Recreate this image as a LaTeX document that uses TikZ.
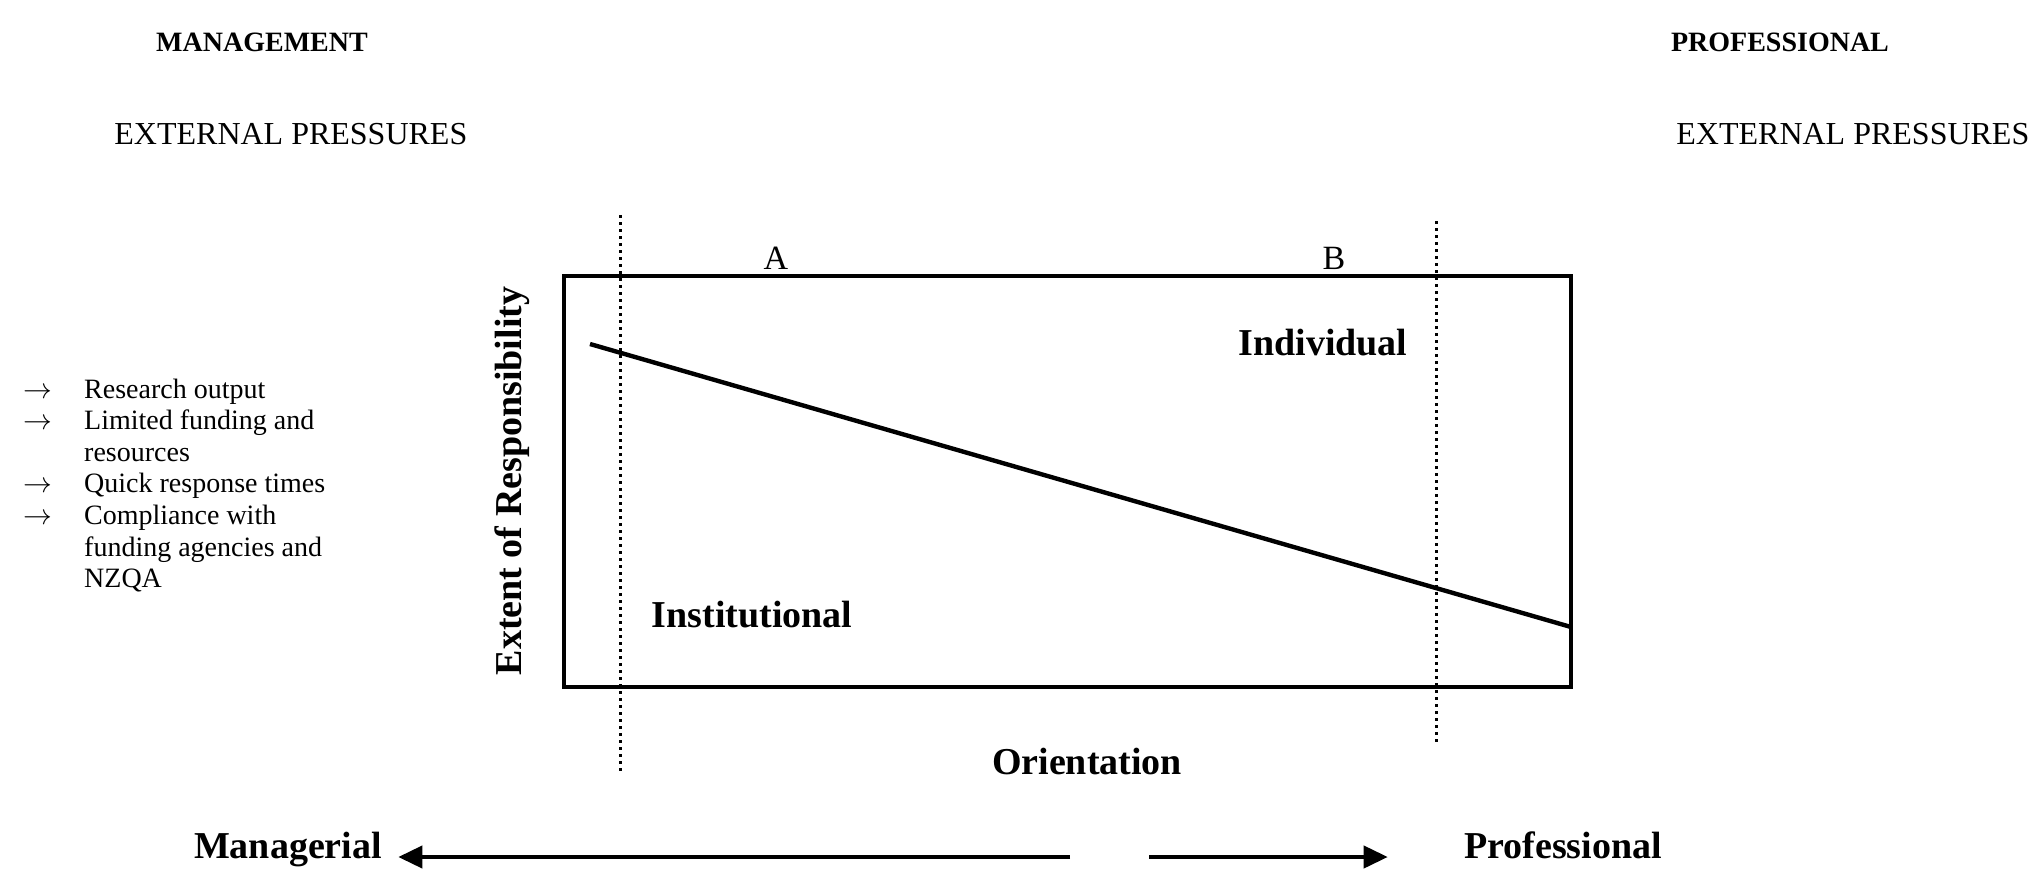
\documentclass[tikz,border=0pt]{standalone}
\usepackage{fontspec}
\setmainfont{Liberation Serif}
\usepackage{tikz}
\usetikzlibrary{arrows.meta, positioning}

\begin{document}
\begin{tikzpicture}[
  x=0.5pt, y=-0.5pt,
  head/.style={font=\fontsize{14}{16}\selectfont\bfseries, inner sep=1pt},
  caps/.style={font=\fontsize{16}{18}\selectfont, inner sep=1pt},
  listtext/.style={font=\fontsize{14}{15.8}\selectfont, inner sep=0pt},
  tag/.style={font=\fontsize{19}{22}\selectfont\bfseries, inner sep=1pt},
  letter/.style={font=\fontsize{17}{20}\selectfont, inner sep=1pt},
  panel/.style={draw, line width=1.6pt, minimum width=503.5pt, minimum height=205.5pt, inner sep=0pt},
  divider/.style={dotted, line width=1.5pt},
  trend/.style={line width=2.2pt},
  axisarrow/.style={line width=2pt, -{Triangle[length=12pt, width=11pt]}}
]
\useasboundingbox (0,0) rectangle (2041,868);
% top headings
\node[head] (mgmt) at (262,42) {MANAGEMENT};
\node[head] (prof) at (1780,42) {PROFESSIONAL};
\node[caps, anchor=west] (extl) at (112,134) {EXTERNAL PRESSURES};
\node[caps, anchor=west] (extr) at (1674,134) {EXTERNAL PRESSURES};
% pressures list
\node[listtext, anchor=base west] (pressures) at (23,398) {%
  \begin{tabular}[t]{@{}l@{\hspace{16pt}}l@{}}
  $\rightarrow$ & Research output\\
  $\rightarrow$ & Limited funding and\\
                & resources\\
  $\rightarrow$ & Quick response times\\
  $\rightarrow$ & Compliance with\\
                & funding agencies and\\
                & NZQA
  \end{tabular}};
% responsibility box
\node[panel] (box) at (1067.5,481.5) {};
\node[letter] (a) at (776,258) {A};
\node[letter] (b) at (1334,258) {B};
\coordinate (atop) at (620,215);
\coordinate (abot) at (620,775);
\coordinate (btop) at (1436,221);
\coordinate (bbot) at (1436,745);
\draw[divider] (atop) -- (abot);
\draw[divider] (btop) -- (bbot);
\coordinate (hi) at (590,344);
\coordinate (lo) at (1571,627);
\draw[trend] (hi) -- (lo);
\node[tag] (indiv) at (1323,343) {Individual};
\node[tag] (inst) at (752,615) {Institutional};
\node[tag, rotate=90] (extent) at (512,481) {Extent of Responsibility};
% orientation axis
\node[tag] (orient) at (1087,761) {Orientation};
\node[tag, anchor=base] (managerial) at (288,858) {Managerial};
\node[tag, anchor=base] (professional) at (1563,858) {Professional};
\coordinate (ltail) at (1070,857);
\coordinate (rtail) at (1149,857);
\draw[axisarrow, shorten >=7pt] (ltail) -- (managerial.east |- ltail);
\draw[axisarrow, shorten >=37pt] (rtail) -- (professional.west |- rtail);
\end{tikzpicture}
\end{document}
